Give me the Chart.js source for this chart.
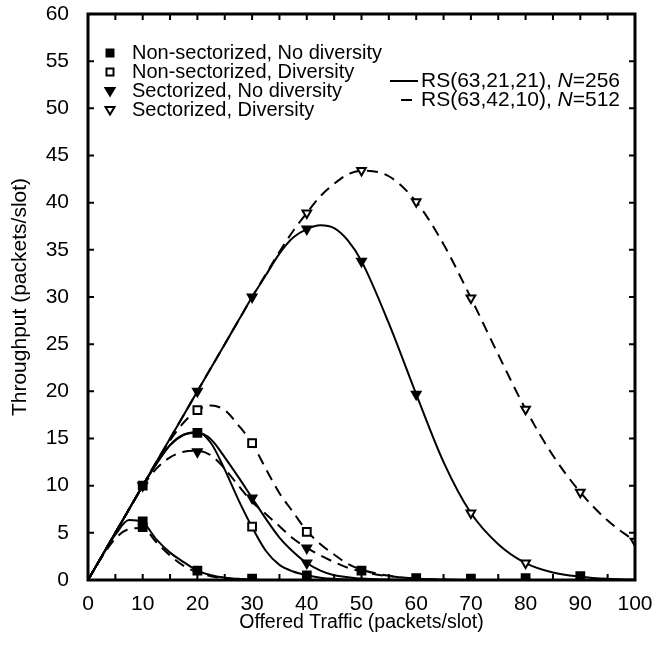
<!DOCTYPE html>
<html lang="en">
<head>
<meta charset="UTF-8">
<title>Throughput vs Offered Traffic</title>
<script src="https://cdn.jsdelivr.net/npm/chart.js"></script>
<style>
  body { margin: 0; background: #fff; }
  #chartContainer { position: relative; width: 655px; height: 654px; }
</style>
</head>
<body>
<div id="chartContainer"><canvas id="throughputChart"></canvas></div>
<script>
// offered traffic grid (packets/slot) shared by all curves
const offeredTraffic = [0, 2.5, 5, 7.5, 10, 12.5, 15, 17.5, 20, 22.5, 25, 27.5, 30, 32.5, 35, 37.5, 40, 42.5, 45, 47.5, 50, 55, 60, 65, 70, 75, 80, 85, 90, 95, 100];

// throughput curves
const bigSolid   = [0, 2.5, 5, 7.5, 10, 12.5, 15, 17.5, 20, 22.5, 25, 27.5, 30, 32.3, 34.6, 36.3, 37.2, 37.6, 37.3, 36.0, 33.8, 27.2, 19.7, 12.5, 7.1, 3.8, 1.8, 0.8, 0.35, 0.12, 0.04];
const bigDashed  = [0, 2.5, 5, 7.5, 10, 12.5, 15, 17.5, 20, 22.5, 25, 27.5, 30, 32.4, 34.8, 37.0, 38.9, 40.7, 42.0, 43.0, 43.4, 42.8, 40.1, 35.6, 29.9, 23.9, 18.1, 13.2, 9.3, 6.3, 4.1];
const midSolidLo = [0, 2.5, 5, 7.5, 10, 12.3, 14.3, 15.4, 15.7, 14.5, 11.7, 8.5, 5.6, 3.1, 1.6, 0.9, 0.5, 0.25, 0.12, 0.06, 0.03, 0, 0, 0, 0, 0, 0, 0, 0, 0, 0];
const midSolidHi = [0, 2.5, 5, 7.5, 10, 12.3, 14.3, 15.4, 15.6, 14.9, 13.0, 10.9, 8.7, 6.5, 4.5, 3.0, 1.8, 1.0, 0.5, 0.3, 0.15, 0.05, 0, 0, 0, 0, 0, 0, 0, 0, 0];
const midDashedHi = [0, 2.5, 5, 7.5, 10, 12.5, 14.8, 16.7, 18.0, 18.5, 18.0, 16.4, 14.5, 11.8, 9.2, 7.2, 5.2, 3.8, 2.7, 1.7, 1.1, 0.45, 0.15, 0.05, 0, 0, 0, 0, 0, 0, 0];
const midDashedLo = [0, 2.5, 5, 7.5, 9.9, 11.8, 13.0, 13.6, 13.7, 13.2, 11.8, 10.0, 8.3, 7.0, 5.7, 4.4, 3.4, 2.6, 1.9, 1.3, 0.9, 0.4, 0.15, 0.05, 0, 0, 0, 0, 0, 0, 0];
const smallSolid  = [0, 2.5, 4.8, 6.35, 6.1, 4.3, 2.9, 1.9, 1.0, 0.5, 0.25, 0.12, 0.05, 0, 0, 0, 0, 0, 0, 0, 0, 0, 0, 0, 0, 0, 0, 0, 0, 0, 0];
const smallDashed = [0, 2.4, 4.4, 5.4, 5.5, 4.0, 2.6, 1.5, 0.8, 0.4, 0.18, 0.08, 0.03, 0, 0, 0, 0, 0, 0, 0, 0, 0, 0, 0, 0, 0, 0, 0, 0, 0, 0];

// simulation markers
const filledSquareX = [10, 10, 10, 20, 20, 30, 40, 50, 60, 70, 80, 90];
const filledSquareY = [10, 6.2, 5.6, 15.6, 1.0, 0.15, 0.5, 1.0, 0.2, 0.15, 0.2, 0.4];
const openSquareX = [20, 30, 30, 40];
const openSquareY = [18.0, 14.5, 5.65, 5.1];
const filledTriX = [10, 20, 20, 30, 30, 40, 40, 40, 50, 60];
const filledTriY = [10, 20, 13.6, 30, 8.7, 37.2, 3.4, 1.8, 33.8, 19.7];
const openTriX = [40, 50, 60, 70, 70, 80, 80, 90, 100];
const openTriY = [38.9, 43.4, 40.1, 29.9, 7.1, 18.1, 1.8, 9.3, 4.1];

const markerLabels = ['Non-sectorized, No diversity', 'Non-sectorized, Diversity', 'Sectorized, No diversity', 'Sectorized, Diversity'];
const codeLabels = [['RS(63,21,21), ', 'N', '=256'], ['RS(63,42,10), ', 'N', '=512']];

const FONT = '"Liberation Sans", Arial, Helvetica, sans-serif';
const DASH = [11, 7];

function pts(xs, ys) {
    return xs.map((x, i) => ({ x: x, y: ys[i] }));
}

function curve(ys, dashed) {
    return {
        data: pts(offeredTraffic, ys),
        showLine: true,
        borderColor: '#000',
        borderWidth: 2,
        borderDash: dashed ? DASH : [],
        pointRadius: 0,
        cubicInterpolationMode: 'monotone',
        fill: false,
        order: 1
    };
}

function markers(xs, ys, style, filled) {
    return {
        data: pts(xs, ys),
        showLine: false,
        pointStyle: style,
        pointRotation: style === 'triangle' ? 180 : 0,
        pointRadius: style === 'rect' ? 5.5 : 5,
        pointBorderWidth: 2,
        pointBorderColor: '#000',
        pointBackgroundColor: filled ? '#000' : '#fff',
        order: 0
    };
}

function drawMarker(ctx, x, y, style, filled) {
    ctx.save();
    ctx.lineWidth = 2;
    ctx.strokeStyle = '#000';
    ctx.fillStyle = filled ? '#000' : '#fff';
    ctx.beginPath();
    if (style === 'rect') {
        ctx.rect(x - 3.5, y - 3.5, 7, 7);
    } else {
        ctx.moveTo(x - 4.5, y - 3);
        ctx.lineTo(x + 4.5, y - 3);
        ctx.lineTo(x, y + 4.5);
        ctx.closePath();
    }
    ctx.fill();
    ctx.stroke();
    ctx.restore();
}

// frame, inward ticks and the two legends
const framePlugin = {
    id: 'frame',
    afterDraw(chart) {
        const ctx = chart.ctx;
        const a = chart.chartArea;
        const xs = chart.scales.x, ys = chart.scales.y;
        ctx.save();
        ctx.strokeStyle = '#000';
        ctx.lineWidth = 2;
        ctx.beginPath();
        for (let v = 0; v <= 100; v += 5) {
            const px = xs.getPixelForValue(v);
            ctx.moveTo(px, a.bottom); ctx.lineTo(px, a.bottom - 6);
            ctx.moveTo(px, a.top); ctx.lineTo(px, a.top + 6);
        }
        for (let v = 0; v <= 60; v += 5) {
            const py = ys.getPixelForValue(v);
            ctx.moveTo(a.left, py); ctx.lineTo(a.left + 6, py);
            ctx.moveTo(a.right, py); ctx.lineTo(a.right - 6, py);
        }
        ctx.stroke();
        ctx.lineWidth = 3;
        ctx.strokeRect(a.left, a.top, a.right - a.left, a.bottom - a.top);

        // marker legend
        ctx.fillStyle = '#000';
        ctx.textBaseline = 'middle';
        ctx.font = '20px ' + FONT;
        const styles = [['rect', true], ['rect', false], ['triangle', true], ['triangle', false]];
        markerLabels.forEach((label, i) => {
            const y = a.top + 39 + i * 19;
            drawMarker(ctx, a.left + 22, y, styles[i][0], styles[i][1]);
            ctx.fillStyle = '#000';
            ctx.fillText(label, a.left + 44, y);
        });

        // line legend
        codeLabels.forEach((parts, i) => {
            const y = a.top + 67 + i * 19;
            ctx.lineWidth = 2;
            ctx.beginPath();
            if (i === 0) {
                ctx.moveTo(a.left + 302, y); ctx.lineTo(a.left + 330, y);
            } else {
                ctx.moveTo(a.left + 313, y); ctx.lineTo(a.left + 324, y);
            }
            ctx.stroke();
            let x = a.left + 333;
            parts.forEach((part, j) => {
                ctx.font = (j === 1 ? 'italic ' : '') + '21px ' + FONT;
                ctx.fillText(part, x, y);
                x += ctx.measureText(part).width;
            });
        });
        ctx.restore();
    }
};

const chart = new Chart(document.getElementById('throughputChart'), {
    type: 'scatter',
    data: {
        datasets: [
            curve(bigSolid, false),
            curve(bigDashed, true),
            curve(midSolidLo, false),
            curve(midSolidHi, false),
            curve(midDashedHi, true),
            curve(midDashedLo, true),
            curve(smallSolid, false),
            curve(smallDashed, true),
            markers(filledSquareX, filledSquareY, 'rect', true),
            markers(openSquareX, openSquareY, 'rect', false),
            markers(filledTriX, filledTriY, 'triangle', true),
            markers(openTriX, openTriY, 'triangle', false)
        ]
    },
    options: {
        responsive: true,
        maintainAspectRatio: false,
        animation: false,
        layout: { padding: { top: 14, right: 20, left: 0, bottom: 0 } },
        plugins: {
            legend: { display: false },
            tooltip: { enabled: false }
        },
        scales: {
            x: {
                type: 'linear',
                min: 0,
                max: 100,
                grid: { display: false, drawTicks: false },
                border: { display: false },
                ticks: {
                    stepSize: 5,
                    autoSkip: false,
                    maxRotation: 0,
                    padding: 12,
                    color: '#000',
                    font: { family: FONT, size: 21 },
                    callback: v => (v % 10 === 0 ? v : '')
                },
                title: {
                    display: true,
                    text: 'Offered Traffic (packets/slot)',
                    color: '#000',
                    font: { family: FONT, size: 19.5 },
                    padding: { top: 0, bottom: 20 }
                },
                afterFit: s => { s.height = 74; s.paddingLeft = 0; s.paddingRight = 0; }
            },
            y: {
                min: 0,
                max: 60,
                grid: { display: false, drawTicks: false },
                border: { display: false },
                ticks: {
                    stepSize: 5,
                    padding: 19,
                    color: '#000',
                    font: { family: FONT, size: 21 }
                },
                title: {
                    display: true,
                    text: 'Throughput (packets/slot)',
                    color: '#000',
                    font: { family: FONT, size: 21 },
                    padding: { top: 8, bottom: 0 }
                },
                afterFit: s => { s.width = 88; s.paddingTop = 0; s.paddingBottom = 0; }
            }
        }
    },
    plugins: [framePlugin]
});
</script>
</body>
</html>
